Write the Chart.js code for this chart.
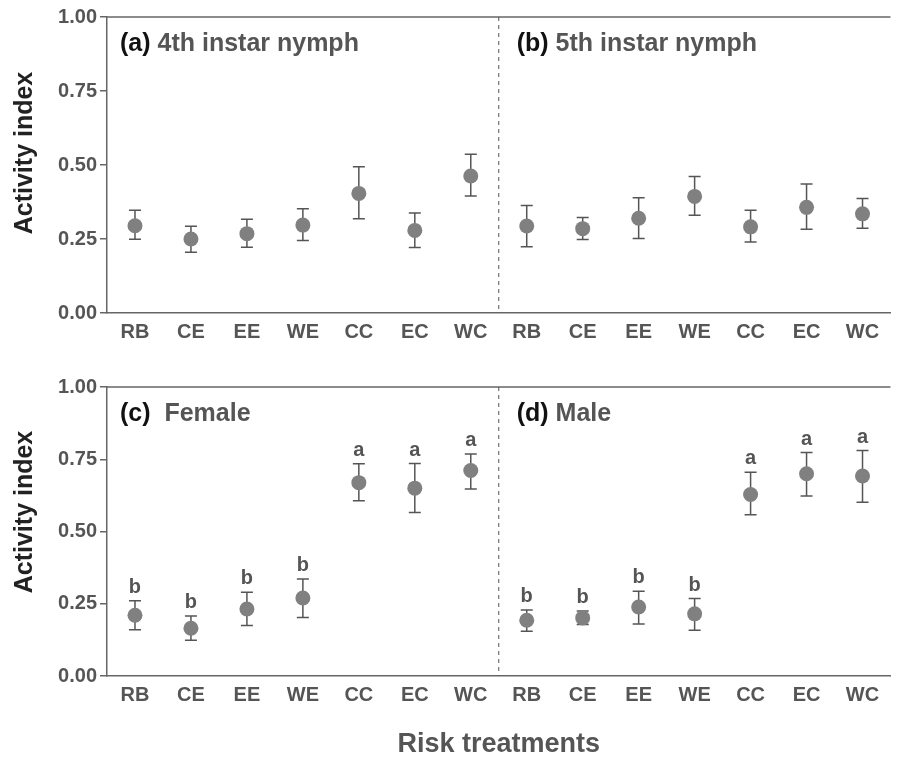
<!DOCTYPE html>
<html>
<head>
<meta charset="utf-8">
<script src="https://cdn.jsdelivr.net/npm/chart.js@4.4.1/dist/chart.umd.min.js"></script>
<style>
    html, body { margin: 0; padding: 0; background: #fff; overflow: hidden; }
    #wrap { position: relative; width: 898px; height: 764px; }
    .row { position: absolute; left: 0; width: 898px; }
    #topRow { top: 0; height: 350px; }
    #bottomRow { top: 370px; height: 394px; }
</style>
</head>
<body>
<div id="wrap">
    <div class="row" id="topRow"><canvas id="nymphChart"></canvas></div>
    <div class="row" id="bottomRow"><canvas id="adultChart"></canvas></div>
</div>
<script>
const treatments = ['RB', 'CE', 'EE', 'WE', 'CC', 'EC', 'WC'];
const yTicks = [0, 0.25, 0.5, 0.75, 1];

// (a) 4th instar nymph
const nymph4Mean  = [0.295, 0.250, 0.268, 0.297, 0.404, 0.279, 0.463];
const nymph4Upper = [0.347, 0.293, 0.317, 0.352, 0.494, 0.338, 0.536];
const nymph4Lower = [0.249, 0.205, 0.222, 0.245, 0.318, 0.221, 0.395];

// (b) 5th instar nymph
const nymph5Mean  = [0.294, 0.285, 0.320, 0.394, 0.291, 0.357, 0.335];
const nymph5Upper = [0.363, 0.323, 0.389, 0.461, 0.347, 0.436, 0.387];
const nymph5Lower = [0.224, 0.248, 0.252, 0.330, 0.240, 0.283, 0.286];

// (c) Female
const femaleMean    = [0.210, 0.165, 0.232, 0.270, 0.669, 0.650, 0.711];
const femaleUpper   = [0.260, 0.208, 0.290, 0.336, 0.734, 0.735, 0.768];
const femaleLower   = [0.160, 0.124, 0.175, 0.202, 0.606, 0.566, 0.647];
const femaleLetters = ['b', 'b', 'b', 'b', 'a', 'a', 'a'];

// (d) Male
const maleMean    = [0.193, 0.201, 0.239, 0.215, 0.628, 0.700, 0.692];
const maleUpper   = [0.228, 0.225, 0.293, 0.268, 0.705, 0.773, 0.780];
const maleLower   = [0.155, 0.178, 0.180, 0.158, 0.558, 0.623, 0.601];
const maleLetters = ['b', 'b', 'b', 'b', 'a', 'a', 'a'];

const FONT = "'Liberation Sans', Arial, Helvetica, sans-serif";
Chart.defaults.font.family = FONT;

// Frame line, dashed divider, error bars, group letters and panel titles
const panelDecor = {
    id: 'panelDecor',
    beforeDatasetsDraw(chart, args, opts) {
        const { ctx, chartArea: area, scales: { x, y } } = chart;
        ctx.save();

        // top frame line
        ctx.strokeStyle = '#666';
        ctx.lineWidth = 1.5;
        ctx.beginPath();
        ctx.moveTo(area.left, area.top);
        ctx.lineTo(area.right, area.top);
        ctx.stroke();

        // dashed line between the two panels
        const midX = (x.getPixelForValue(6) + x.getPixelForValue(7)) / 2;
        ctx.setLineDash([4, 4]);
        ctx.lineWidth = 1;
        ctx.strokeStyle = '#555';
        ctx.beginPath();
        ctx.moveTo(midX, area.top);
        ctx.lineTo(midX, area.bottom);
        ctx.stroke();
        ctx.setLineDash([]);

        // error bars
        ctx.strokeStyle = '#555';
        ctx.lineWidth = 1.5;
        opts.upper.forEach((u, i) => {
            const px = x.getPixelForValue(i);
            const yu = y.getPixelForValue(u);
            const yl = y.getPixelForValue(opts.lower[i]);
            ctx.beginPath();
            ctx.moveTo(px, yu); ctx.lineTo(px, yl);
            ctx.moveTo(px - 6, yu); ctx.lineTo(px + 6, yu);
            ctx.moveTo(px - 6, yl); ctx.lineTo(px + 6, yl);
            ctx.stroke();
        });
        ctx.restore();
    },
    afterDatasetsDraw(chart, args, opts) {
        const { ctx, chartArea: area, scales: { x, y } } = chart;
        ctx.save();

        // significance letters above the error bars
        if (opts.letters) {
            ctx.font = 'bold 20px ' + FONT;
            ctx.fillStyle = '#555';
            ctx.textAlign = 'center';
            ctx.textBaseline = 'alphabetic';
            opts.letters.forEach((l, i) => {
                if (!l) return;
                ctx.fillText(l, x.getPixelForValue(i), y.getPixelForValue(opts.upper[i]) - 8);
            });
        }

        // panel titles: "(a)" in black, name in grey
        const midX = (x.getPixelForValue(6) + x.getPixelForValue(7)) / 2;
        const starts = [area.left + 13, midX + 18];
        ctx.font = 'bold 25px ' + FONT;
        ctx.textAlign = 'left';
        opts.panels.forEach((p, k) => {
            const cut = p.indexOf(' ');
            const tag = p.slice(0, cut);
            const rest = p.slice(cut);
            const bx = starts[k];
            const by = area.top + 34;
            ctx.fillStyle = '#111';
            ctx.fillText(tag, bx, by);
            ctx.fillStyle = '#555';
            ctx.fillText(rest, bx + ctx.measureText(tag).width, by);
        });

        // y axis title
        ctx.translate(25, opts.yTitleY);
        ctx.rotate(-Math.PI / 2);
        ctx.font = 'bold 25px ' + FONT;
        ctx.fillStyle = '#222';
        ctx.textAlign = 'center';
        ctx.textBaseline = 'middle';
        ctx.fillText('Activity index', 0, 0);
        ctx.restore();
    }
};

function buildRow(canvasId, means, decor, xTitle, axisHeight) {
    const ctx = document.getElementById(canvasId).getContext('2d');
    return new Chart(ctx, {
        type: 'line',
        data: {
            labels: treatments.concat(treatments),
            datasets: [{
                data: means,
                showLine: false,
                pointRadius: 7.5,
                pointHoverRadius: 7.5,
                pointBackgroundColor: '#808080',
                pointBorderWidth: 0
            }]
        },
        options: {
            responsive: true,
            maintainAspectRatio: false,
            animation: false,
            layout: { padding: { top: 17, left: 0, right: 0, bottom: 0 } },
            plugins: {
                legend: { display: false },
                tooltip: { enabled: false },
                panelDecor: decor
            },
            scales: {
                x: {
                    offset: true,
                    grid: { display: false, drawTicks: false, offset: true },
                    border: { display: true, color: '#666', width: 1.5 },
                    ticks: {
                        color: '#555',
                        font: { size: 20, weight: 'bold' },
                        padding: 7,
                        maxRotation: 0,
                        autoSkip: false
                    },
                    title: {
                        display: !!xTitle,
                        text: xTitle || '',
                        color: '#555',
                        font: { size: 27, weight: 'bold' },
                        padding: { top: 0, bottom: 3 }
                    },
                    afterFit: (s) => { s.height = axisHeight; }
                },
                y: {
                    min: 0,
                    max: 1,
                    afterBuildTicks: (s) => { s.ticks = yTicks.map(v => ({ value: v })); },
                    grid: { drawOnChartArea: false, drawTicks: true, tickLength: 7, color: '#666', lineWidth: 1.5 },
                    border: { display: true, color: '#666', width: 1.5 },
                    ticks: {
                        color: '#555',
                        font: { size: 20, weight: 'bold' },
                        padding: 3,
                        callback: (v) => Number(v).toFixed(2)
                    },
                    afterFit: (s) => { s.width = 107; }
                }
            }
        },
        plugins: [panelDecor]
    });
}

buildRow('nymphChart', nymph4Mean.concat(nymph5Mean), {
    upper: nymph4Upper.concat(nymph5Upper),
    lower: nymph4Lower.concat(nymph5Lower),
    panels: ['(a) 4th instar nymph', '(b) 5th instar nymph'],
    yTitleY: 153
}, null, 37);

buildRow('adultChart', femaleMean.concat(maleMean), {
    upper: femaleUpper.concat(maleUpper),
    lower: femaleLower.concat(maleLower),
    letters: femaleLetters.concat(maleLetters),
    panels: ['(c)  Female', '(d) Male'],
    yTitleY: 142
}, 'Risk treatments', 88);
</script>
</body>
</html>
